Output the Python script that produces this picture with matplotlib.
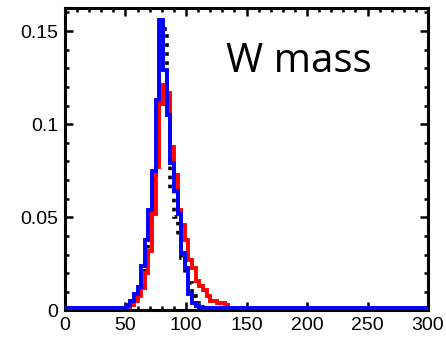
import numpy as np
import matplotlib
matplotlib.use("Agg")
import matplotlib.pyplot as plt
from matplotlib.ticker import MultipleLocator

# bin edges (GeV): flat tails + 3 GeV bins across the peak
edges = [0] + list(range(51, 136, 3)) + [300]

# fraction per bin
black = [0.0, 0.002, 0.004, 0.007, 0.012, 0.02, 0.03, 0.045, 0.07, 0.11, 0.145,
         0.151, 0.118, 0.065, 0.05, 0.04, 0.028, 0.02, 0.015, 0.008, 0.004,
         0.002, 0.001, 0.0, 0.0, 0.0, 0.0, 0.0, 0.0, 0.0]
red = [0.0012, 0.002, 0.003, 0.005, 0.008, 0.012, 0.02, 0.032, 0.052, 0.077, 0.111,
       0.121, 0.117, 0.088, 0.073, 0.054, 0.046, 0.038, 0.027, 0.023, 0.016,
       0.013, 0.011, 0.008, 0.005, 0.005, 0.004, 0.004, 0.003, 0.0012]
blue = [0.0012, 0.003, 0.005, 0.009, 0.0124, 0.024, 0.038, 0.054, 0.075, 0.113,
        0.156, 0.129, 0.105, 0.079, 0.064, 0.052, 0.031, 0.023, 0.009, 0.004,
        0.0025, 0.0015, 0.0015, 0.0015, 0.0015, 0.0015, 0.0015, 0.0015, 0.0015, 0.0012]

plt.rcParams['font.family'] = ['Liberation Sans', 'DejaVu Sans']

fig = plt.figure(figsize=(4.46, 3.38), dpi=100)
ax = fig.add_axes([0.1457, 0.0814, 0.814, 0.895])

ax.stairs(black, edges, color="black", lw=2.6, linestyle=(0, (1, 1.5)), zorder=2)
ax.stairs(red, edges, color="#ff0000", lw=2.8, zorder=3)
ax.stairs(blue, edges, color="#0000ff", lw=2.8, zorder=4)

ax.set_xlim(0, 300)
ax.set_ylim(0, 0.1624)
ax.xaxis.set_major_locator(MultipleLocator(50))
ax.xaxis.set_minor_locator(MultipleLocator(10))
ax.yaxis.set_major_locator(MultipleLocator(0.05))
ax.yaxis.set_minor_locator(MultipleLocator(0.01))
ax.set_yticks([0, 0.05, 0.1, 0.15], ["0", "0.05", "0.1", "0.15"])

ax.tick_params(which="both", direction="in", top=True, right=True, width=1.8,
               labelsize=14)
ax.tick_params(which="major", length=6)
ax.tick_params(which="minor", length=3)
ax.tick_params(axis="y", pad=5)
ax.tick_params(axis="x", pad=5)
for s in ax.spines.values():
    s.set_linewidth(2.2)

ax.text(0.645, 0.788, "W mass", transform=ax.transAxes, ha="center", va="baseline",
        fontsize=29, family=["Open Sans", "DejaVu Sans"])

fig.savefig("out.png", dpi=100)
